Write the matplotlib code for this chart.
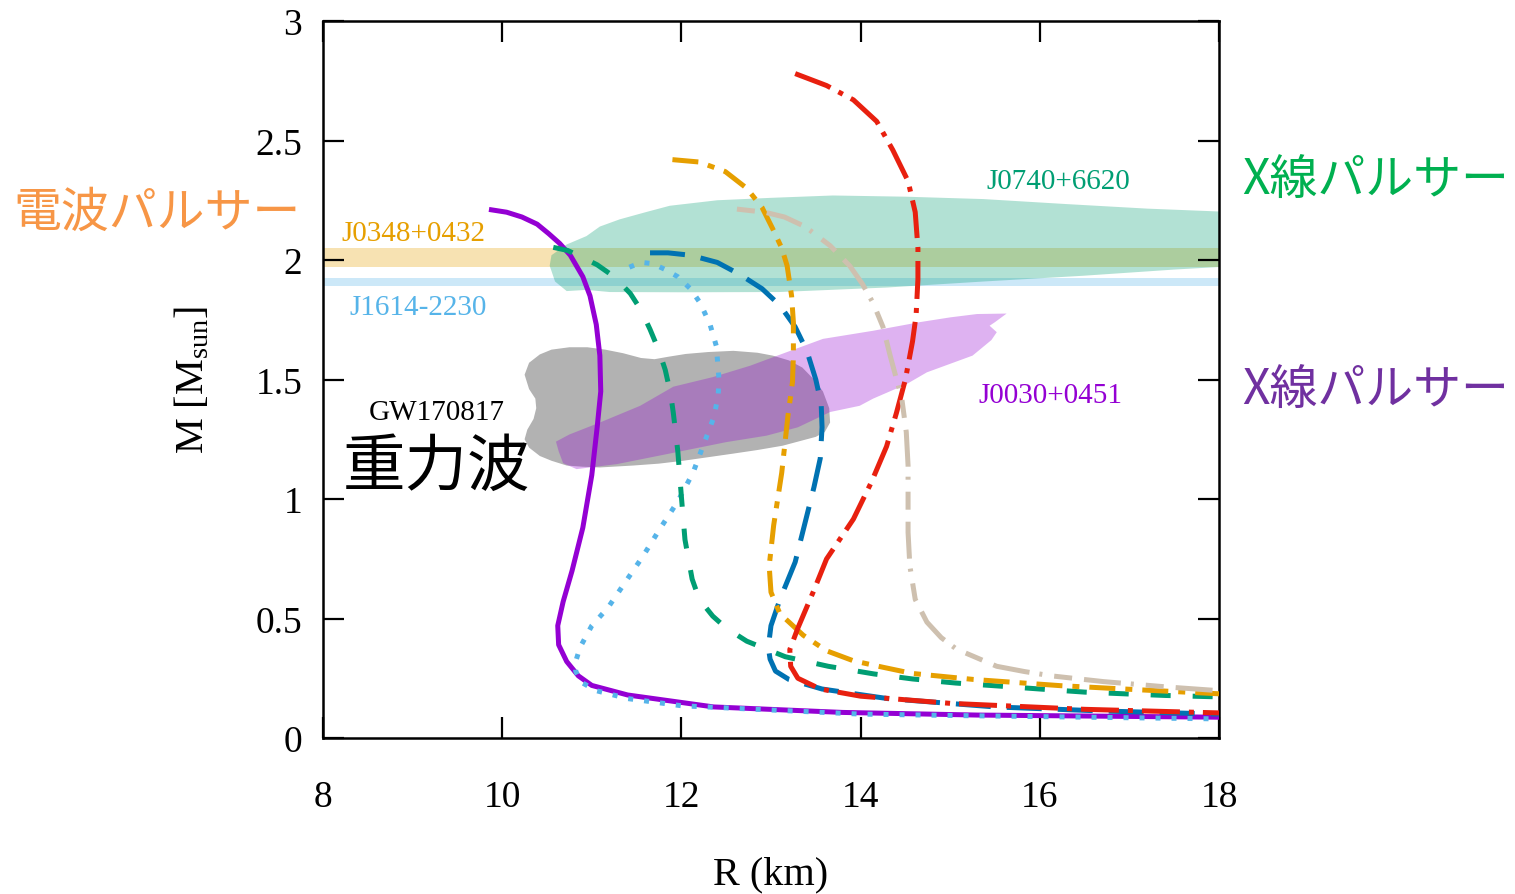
import matplotlib.pyplot as plt
from matplotlib import rcParams

rcParams["font.family"] = ["Liberation Serif"]
rcParams["mathtext.fontset"] = "custom"
rcParams["mathtext.rm"] = "Liberation Serif"
rcParams["mathtext.it"] = "Liberation Serif:italic"

JP_FONT = ["Noto Sans CJK JP", "DejaVu Sans"]

# 質量-半径曲線 (R [km], M [Msun])
purple_R = [9.88, 10.05, 10.22, 10.39, 10.52, 10.64, 10.76, 10.9, 10.98, 11.05, 11.09, 11.1,
            11.06, 11.0, 10.9, 10.78, 10.68, 10.62, 10.63, 10.72, 10.85, 11.0, 11.4, 12.36,
            13.8, 15.3, 18.0]
purple_M = [2.21, 2.2, 2.18, 2.15, 2.11, 2.07, 2.02, 1.93, 1.85, 1.73, 1.6, 1.45,
            1.3, 1.1, 0.88, 0.7, 0.57, 0.47, 0.39, 0.32, 0.26, 0.22, 0.18, 0.13,
            0.107, 0.096, 0.087]

skyblue_R = [11.42, 11.55, 11.68, 11.82, 11.96, 12.1, 12.21, 12.32, 12.39, 12.42, 12.41, 12.36,
             12.26, 12.13, 11.96, 11.76, 11.57, 11.37, 11.18, 11.0, 10.87, 10.82, 10.82, 10.88,
             11.05, 11.4, 12.0, 12.84, 14.0, 15.26, 18.0]
skyblue_M = [1.97, 1.99, 1.985, 1.96, 1.93, 1.88, 1.82, 1.73, 1.64, 1.5, 1.43, 1.34,
             1.24, 1.11, 0.99, 0.875, 0.76, 0.65, 0.545, 0.47, 0.38, 0.32, 0.28, 0.234,
             0.198, 0.165, 0.135, 0.12, 0.1, 0.093, 0.08]

green_R = [10.57, 10.73, 10.9, 11.06, 11.25, 11.43, 11.55, 11.65, 11.75, 11.82, 11.88, 11.91,
           11.96, 12.0, 12.04, 12.12, 12.2, 12.35, 12.5, 12.73, 13.16, 13.64, 14.15, 14.58,
           15.06, 15.56, 16.0, 16.5, 17.0, 17.4, 18.0]
green_M = [2.053, 2.04, 2.01, 1.98, 1.93, 1.86, 1.79, 1.71, 1.62, 1.54, 1.44, 1.36,
           1.2, 1.01, 0.83, 0.665, 0.58, 0.51, 0.46, 0.405, 0.34, 0.3, 0.268, 0.247,
           0.23, 0.217, 0.205, 0.192, 0.184, 0.178, 0.172]

blue_R = [11.65, 11.85, 12.1, 12.4, 12.65, 12.9, 13.1, 13.27, 13.4, 13.5, 13.56, 13.57,
          13.55, 13.48, 13.41, 13.27, 13.1, 13.0, 12.97, 12.99, 13.05, 13.2, 13.57, 14.3,
          15.5, 16.7, 18.0]
blue_M = [2.03, 2.03, 2.02, 1.99, 1.94, 1.88, 1.81, 1.72, 1.62, 1.5, 1.4, 1.3,
          1.17, 1.05, 0.945, 0.736, 0.58, 0.47, 0.38, 0.33, 0.28, 0.245, 0.205, 0.165,
          0.13, 0.113, 0.1]

orange_R = [11.9, 12.2, 12.49, 12.73, 12.9, 13.02, 13.12, 13.18, 13.23, 13.25, 13.25, 13.24,
            13.19, 13.12, 13.03, 12.98, 13.0, 13.1, 13.36, 13.62, 13.92, 14.25, 14.58, 15.26,
            16.23, 17.2, 18.0]
orange_M = [2.42, 2.41, 2.37, 2.3, 2.22, 2.13, 2.05, 1.976, 1.85, 1.74, 1.6, 1.49,
            1.35, 1.11, 0.89, 0.72, 0.61, 0.52, 0.43, 0.365, 0.323, 0.296, 0.27, 0.245,
            0.219, 0.2, 0.185]

red_R = [13.27, 13.62, 13.92, 14.18, 14.36, 14.53, 14.61, 14.64, 14.64, 14.62, 14.58, 14.5,
         14.4, 14.29, 14.12, 13.92, 13.62, 13.47, 13.3, 13.21, 13.22, 13.3, 13.55, 14.0,
         15.0, 16.5, 18.0]
red_M = [2.78, 2.73, 2.67, 2.58, 2.46, 2.33, 2.2, 2.05, 1.92, 1.77, 1.66, 1.5,
         1.36, 1.22, 1.07, 0.916, 0.749, 0.61, 0.46, 0.37, 0.3, 0.25, 0.205, 0.175,
         0.145, 0.12, 0.105]

tan_R = [12.62, 12.93, 13.15, 13.38, 13.66, 13.88, 14.02, 14.14, 14.25, 14.33, 14.46, 14.51,
         14.53, 14.53, 14.55, 14.61, 14.74, 14.9, 15.07, 15.52, 15.83, 16.13, 16.71, 17.44, 18.0]
tan_M = [2.213, 2.2, 2.18, 2.14, 2.06, 1.975, 1.9, 1.82, 1.72, 1.6, 1.42, 1.28,
         1.14, 0.86, 0.72, 0.58, 0.485, 0.42, 0.372, 0.3, 0.278, 0.26, 0.236, 0.213, 0.198]

# 観測による制限領域
gw_R = [10.25, 10.3, 10.42, 10.55, 10.75, 10.95, 11.15, 11.35, 11.55, 11.7, 11.85, 12.05,
        12.3, 12.58, 12.85, 13.02, 13.2, 13.35, 13.48, 13.58, 13.65, 13.66, 13.6, 13.5,
        13.3, 13.13, 12.85, 12.58, 12.3, 12.02, 11.75, 11.46, 11.09, 10.9, 10.72, 10.55,
        10.42, 10.3, 10.25, 10.28, 10.35, 10.38, 10.37, 10.3]
gw_M = [1.52, 1.57, 1.605, 1.625, 1.635, 1.635, 1.625, 1.61, 1.59, 1.585, 1.595, 1.607,
        1.615, 1.62, 1.612, 1.6, 1.58, 1.55, 1.5, 1.45, 1.38, 1.32, 1.28, 1.26,
        1.24, 1.223, 1.205, 1.19, 1.175, 1.16, 1.148, 1.14, 1.132, 1.135, 1.14, 1.16,
        1.18, 1.215, 1.25, 1.29, 1.335, 1.38, 1.42, 1.46]

j0030_R = [10.6, 10.75, 11.09, 11.54, 11.91, 12.35, 12.77, 13.18, 13.58, 14.14, 14.66, 15.0,
           15.3, 15.63, 15.5, 15.44, 15.52, 15.46, 15.25, 14.74, 14.51, 14.14, 13.99, 13.66,
           13.3, 12.95, 12.5, 11.84, 11.28, 10.83, 10.68, 10.63]
j0030_M = [1.24, 1.27, 1.32, 1.39, 1.47, 1.51, 1.558, 1.615, 1.67, 1.704, 1.74, 1.76,
           1.774, 1.776, 1.74, 1.725, 1.698, 1.665, 1.6, 1.53, 1.48, 1.42, 1.39, 1.364,
           1.3, 1.265, 1.238, 1.188, 1.146, 1.125, 1.15, 1.2]

j0740_R = [10.55, 10.72, 10.94, 11.09, 11.31, 11.6, 11.87, 12.4, 12.99, 13.69, 14.5, 15.37,
           16.3, 17.2, 18.2, 18.2, 17.5, 16.48, 15.37, 14.3, 13.09, 12.0, 11.2, 10.94,
           10.72, 10.59, 10.53]
j0740_M = [2.02, 2.065, 2.1, 2.14, 2.17, 2.2, 2.227, 2.25, 2.26, 2.27, 2.265, 2.255,
           2.234, 2.215, 2.2, 1.975, 1.96, 1.934, 1.91, 1.885, 1.866, 1.865, 1.866, 1.875,
           1.87, 1.91, 1.976]

j0348_M = (1.97, 2.05)
j1614_M = (1.893, 1.924)

fig = plt.figure(figsize=(15.15, 8.95), dpi=100)
ax = fig.add_axes([0.2132, 0.1743, 0.5914, 0.8011])

ax.fill(gw_R, gw_M, color="black", alpha=0.3, lw=0, zorder=1)
ax.fill(j0030_R, j0030_M, color="#9400D3", alpha=0.3, lw=0, zorder=1)
ax.axhspan(*j0348_M, color="#E69F00", alpha=0.3, lw=0, zorder=1)
ax.axhspan(*j1614_M, color="#56B4E9", alpha=0.3, lw=0, zorder=1)
ax.fill(j0740_R, j0740_M, color="#009E73", alpha=0.3, lw=0, zorder=1)

lw = 3.6
ax.plot(purple_R, purple_M, color="#9400D3", lw=lw, zorder=3)
ax.plot(skyblue_R, skyblue_M, color="#56B4E9", lw=lw, ls=(0, (1.0, 2.2)), zorder=3)
ax.plot(green_R, green_M, color="#009E73", lw=lw, ls=(0, (4.0, 4.4)), zorder=3)
ax.plot(blue_R, blue_M, color="#0072B2", lw=lw, ls=(0, (7.0, 3.2)), zorder=3)
ax.plot(orange_R, orange_M, color="#E69F00", lw=lw, ls=(0, (5.2, 2.0, 1.4, 2.0)), zorder=3)
ax.plot(red_R, red_M, color="#E8200F", lw=lw, ls=(0, (7.6, 1.8, 1.0, 1.8)), zorder=3)
ax.plot(tan_R, tan_M, color="#CEC0AF", lw=lw, ls=(0, (3.6, 2.4, 7.4, 2.0, 0.6, 2.4)), zorder=3)

# 天体名
ax.text(8.21, 2.113, "J0348+0432", color="#E69F00", fontsize=21, va="center")
ax.text(8.30, 1.803, "J1614-2230", color="#56B4E9", fontsize=21, va="center")
ax.text(15.41, 2.330, "J0740+6620", color="#009E73", fontsize=21, va="center")
ax.text(15.31, 1.435, "J0030+0451", color="#9400D3", fontsize=21, va="center")
ax.text(8.51, 1.364, "GW170817", color="black", fontsize=21, va="center")
ax.text(8.22, 1.135, "重力波", color="black", fontsize=45, va="center", family=JP_FONT)

fig.text(13 / 1515, 1 - 213 / 895, "電波パルサー", color="#F79646", fontsize=34.5,
         va="center", family=JP_FONT)
fig.text(1242 / 1515, 1 - 181 / 895, "X線パルサー", color="#00B050", fontsize=34.5,
         va="center", family=JP_FONT)
fig.text(1242 / 1515, 1 - 391 / 895, "X線パルサー", color="#7030A0", fontsize=34.5,
         va="center", family=JP_FONT)

ax.set_xlim(8, 18)
ax.set_ylim(0, 3)
ax.set_xticks([8, 10, 12, 14, 16, 18])
ax.set_yticks([0, 0.5, 1, 1.5, 2, 2.5, 3])
ax.set_yticklabels(["0", "0.5", "1", "1.5", "2", "2.5", "3"])
ax.tick_params(direction="in", length=15, width=1.6, top=True, right=True, labelsize=27)
ax.tick_params(axis="x", pad=30)
ax.tick_params(axis="y", pad=15)
for s in ax.spines.values():
    s.set_linewidth(1.8)

ax.set_xlabel("R (km)", fontsize=29, labelpad=30)
ax.set_ylabel(r"M [M$_{\rm sun}$]", fontsize=29, labelpad=31)

plt.savefig("out.png", dpi=100)
